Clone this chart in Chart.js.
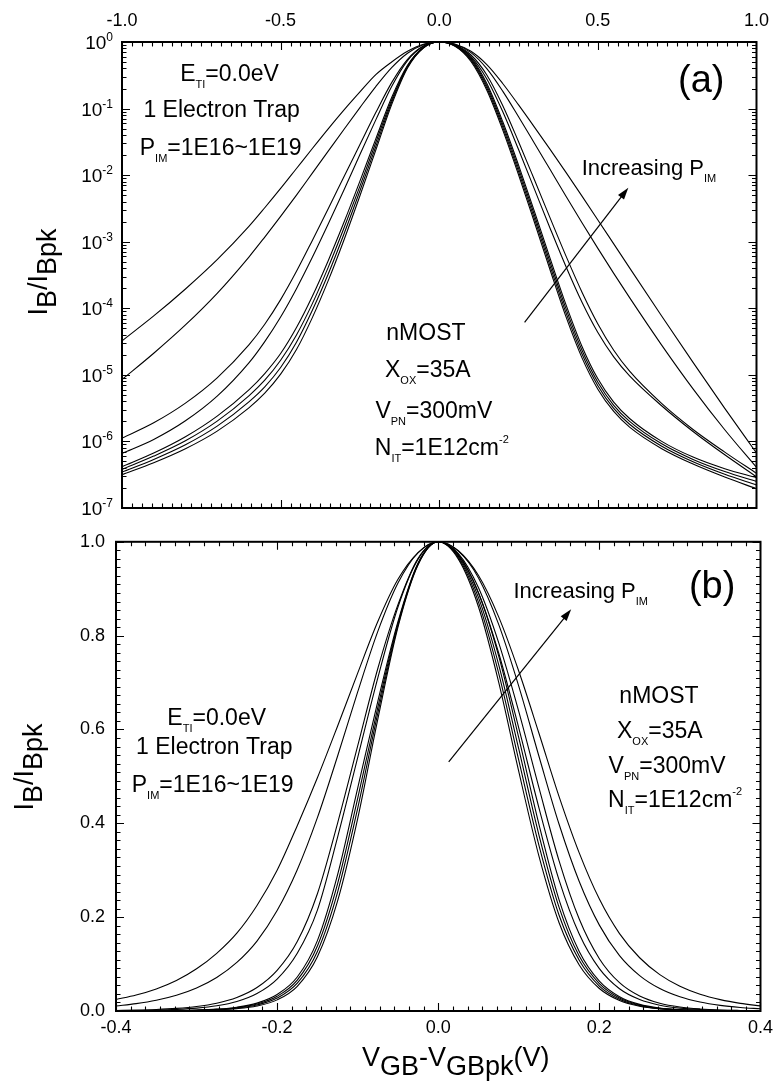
<!DOCTYPE html>
<html><head><meta charset="utf-8">
<script src="https://cdn.jsdelivr.net/npm/chart.js@4.4.0/dist/chart.umd.min.js"></script>
<style>
html,body{margin:0;padding:0;background:#fff;}
#wrap{position:relative;width:779px;height:1082px;background:#fff;}
#ca{position:absolute;left:0;top:0;}
#cb{position:absolute;left:0;top:520px;}
</style></head><body>
<div id="wrap"><canvas id="ca" width="779" height="520"></canvas><canvas id="cb" width="779" height="562"></canvas></div>
<script>
const FONT = '"Liberation Sans", Arial, Helvetica, sans-serif';

// ================= DATA =================
// Panel (a): x = VGB-VGBpk (V); values = log10(IB/IBpk)
const vTop = [-1.0,-0.9,-0.8,-0.7,-0.6,-0.55,-0.5,-0.45,-0.4,-0.35,-0.3,-0.25,-0.2,-0.15,-0.1,-0.05,0,
              0.05,0.1,0.15,0.2,0.25,0.3,0.35,0.4,0.45,0.5,0.55,0.6,0.7,0.8,0.9,1.0];
const aLog1 = [-4.49,-4.115,-3.71,-3.27,-2.77,-2.49,-2.2,-1.9,-1.6,-1.305,-1.02,-0.75,-0.49,-0.30,-0.14,-0.035,0,
               -0.033,-0.14,-0.34,-0.623,-0.945,-1.278,-1.617,-1.963,-2.315,-2.673,-3.033,-3.393,-4.108,-4.813,-5.503,-6.173];
const aLog2 = [-5.07,-4.675,-4.25,-3.775,-3.23,-2.93,-2.62,-2.30,-1.97,-1.64,-1.31,-0.985,-0.67,-0.385,-0.168,-0.04,0,
               -0.035,-0.16,-0.40,-0.738,-1.123,-1.52,-1.92,-2.32,-2.715,-3.10,-3.475,-3.84,-4.545,-5.21,-5.825,-6.39];
const aLog3 = [-5.95,-5.72,-5.425,-5.045,-4.55,-4.24,-3.87,-3.445,-2.98,-2.505,-2.02,-1.54,-1.06,-0.61,-0.26,-0.06,0,
               -0.045,-0.195,-0.495,-0.953,-1.498,-2.07,-2.65,-3.22,-3.758,-4.235,-4.63,-4.945,-5.425,-5.82,-6.16,-6.48];
const aLog4 = [-6.18,-5.97,-5.69,-5.32,-4.82,-4.50,-4.13,-3.705,-3.235,-2.735,-2.22,-1.69,-1.17,-0.67,-0.28,-0.065,0,
               -0.05,-0.22,-0.555,-1.045,-1.615,-2.21,-2.805,-3.38,-3.91,-4.365,-4.73,-5.015,-5.46,-5.85,-6.2,-6.53];
const aLog5 = [-6.38,-6.175,-5.93,-5.62,-5.225,-4.98,-4.68,-4.29,-3.82,-3.285,-2.705,-2.09,-1.455,-0.835,-0.35,-0.08,0,
               -0.05,-0.235,-0.625,-1.195,-1.85,-2.545,-3.258,-3.953,-4.573,-5.06,-5.41,-5.655,-5.995,-6.235,-6.41,-6.545];
const aLog6 = [-6.42,-6.22,-5.99,-5.695,-5.315,-5.08,-4.78,-4.40,-3.93,-3.385,-2.79,-2.165,-1.51,-0.87,-0.363,-0.083,0,
               -0.055,-0.254,-0.658,-1.237,-1.898,-2.599,-3.316,-4.013,-4.63,-5.112,-5.457,-5.698,-6.032,-6.27,-6.452,-6.60];
const aLog7 = [-6.46,-6.27,-6.05,-5.77,-5.405,-5.18,-4.89,-4.51,-4.03,-3.485,-2.88,-2.235,-1.57,-0.905,-0.377,-0.087,0,
               -0.06,-0.273,-0.692,-1.278,-1.947,-2.653,-3.374,-4.073,-4.688,-5.163,-5.503,-5.742,-6.068,-6.305,-6.493,-6.655];
const aLog8 = [-6.50,-6.32,-6.11,-5.845,-5.495,-5.275,-4.99,-4.62,-4.14,-3.585,-2.97,-2.31,-1.625,-0.94,-0.39,-0.09,0,
               -0.065,-0.293,-0.725,-1.32,-1.995,-2.708,-3.433,-4.133,-4.745,-5.215,-5.55,-5.785,-6.105,-6.34,-6.535,-6.71];

// Panel (b): linear IB/IBpk
const vBot = [-0.4,-0.375,-0.35,-0.325,-0.3,-0.275,-0.25,-0.225,-0.2,-0.175,-0.15,-0.125,-0.1,-0.075,-0.05,-0.025,0,
              0.025,0.05,0.075,0.1,0.125,0.15,0.175,0.2,0.225,0.25,0.275,0.3,0.325,0.35,0.375,0.4];
const b1 = [0.0245,0.034,0.047,0.065,0.09,0.123,0.166,0.225,0.30,0.395,0.497,0.607,0.72,0.83,0.92,0.977,1.0,
            0.981,0.928,0.84,0.724,0.592,0.457,0.337,0.2385,0.165,0.1135,0.0776,0.0528,0.0358,0.0242,0.0163,0.0109];
const b2 = [0.0107,0.0157,0.0229,0.0335,0.049,0.0714,0.1035,0.149,0.214,0.301,0.412,0.543,0.68,0.809,0.912,0.977,1.0,
            0.980,0.923,0.824,0.692,0.543,0.398,0.276,0.183,0.118,0.0754,0.0478,0.0302,0.019,0.012,0.0076,0.0048];
const b3 = [0.0011,0.0018,0.0031,0.0055,0.0095,0.0166,0.0288,0.05,0.0866,0.148,0.25,0.40,0.565,0.73,0.866,0.965,1.0,
            0.975,0.902,0.785,0.638,0.476,0.32,0.196,0.1115,0.0603,0.0318,0.0165,0.0085,0.0044,0.0022,0.0012,0.0006];
const b4 = [0.0006,0.001,0.0018,0.0034,0.0061,0.0111,0.0203,0.0372,0.068,0.123,0.215,0.37,0.54,0.71,0.861,0.963,1.0,
            0.972,0.891,0.763,0.603,0.433,0.279,0.164,0.0902,0.0473,0.0243,0.0123,0.0062,0.0031,0.0016,0.0008,0.0004];
const b5 = [0.00015,0.00028,0.00052,0.001,0.002,0.004,0.0081,0.0168,0.0351,0.0724,0.15,0.29,0.475,0.66,0.83,0.955,1.0,
            0.972,0.891,0.757,0.582,0.398,0.237,0.127,0.0638,0.0305,0.0141,0.0064,0.0029,0.0013,0.00055,0.00025,0.00011];
const b6 = [0.00012,0.00023,0.00043,0.00084,0.0017,0.0034,0.007,0.0148,0.0313,0.0658,0.1385,0.271,0.453,0.647,0.826,0.954,1.0,
            0.969,0.881,0.738,0.558,0.375,0.221,0.117,0.0585,0.0278,0.0128,0.0058,0.0026,0.0012,0.0005,0.00022,0.0001];
const b7 = [0.0001,0.00019,0.00035,0.00068,0.0014,0.0029,0.006,0.0127,0.0275,0.0593,0.127,0.253,0.432,0.635,0.822,0.952,1.0,
            0.966,0.871,0.72,0.534,0.353,0.204,0.108,0.0532,0.025,0.0114,0.0051,0.0023,0.001,0.00043,0.00019,0.00008];
const b8 = [0.00007,0.00014,0.00026,0.00052,0.00107,0.0023,0.0049,0.0107,0.0237,0.0527,0.1155,0.234,0.41,0.622,0.818,0.951,1.0,
            0.963,0.861,0.701,0.51,0.33,0.188,0.098,0.0479,0.0223,0.0101,0.0045,0.002,0.00085,0.00037,0.00016,0.00007];

// Tick labels
const topXTickVals = [-1.0,-0.5,0.0,0.5,1.0];
const topYDecades = [0,-1,-2,-3,-4,-5,-6,-7];
const botXTickVals = [-0.4,-0.2,0.0,0.2,0.4];
const botYTickVals = [0.0,0.2,0.4,0.6,0.8,1.0];

// ================= HELPERS =================
const f = sz => sz + 'px ' + FONT;
function richWidth(ctx, parts){ let w=0; for(const p of parts){ ctx.font=f(p[1]); w+=ctx.measureText(p[0]).width; } return w; }
function drawRich(ctx, x, y, parts, align){
  const w = richWidth(ctx, parts);
  let cx = align==='center' ? x - w/2 : (align==='right' ? x - w : x);
  ctx.textBaseline='alphabetic'; ctx.textAlign='left'; ctx.fillStyle='#000';
  for(const p of parts){ ctx.font=f(p[1]); ctx.fillText(p[0], cx, y + (p[2]||0)); cx += ctx.measureText(p[0]).width; }
}
function drawRichRot(ctx, x, y, parts){
  ctx.save(); ctx.translate(x, y); ctx.rotate(-Math.PI/2); drawRich(ctx, 0, 0, parts, 'center'); ctx.restore();
}
function arrow(ctx, x1,y1,x2,y2){
  const a = Math.atan2(y2-y1, x2-x1), L=12, W=3.8;
  ctx.save(); ctx.strokeStyle='#000'; ctx.fillStyle='#000'; ctx.lineWidth=1.2;
  ctx.beginPath(); ctx.moveTo(x1,y1); ctx.lineTo(x2-L*0.8*Math.cos(a), y2-L*0.8*Math.sin(a)); ctx.stroke();
  ctx.beginPath(); ctx.moveTo(x2,y2);
  ctx.lineTo(x2 - L*Math.cos(a) + W*Math.sin(a), y2 - L*Math.sin(a) - W*Math.cos(a));
  ctx.lineTo(x2 - L*Math.cos(a) - W*Math.sin(a), y2 - L*Math.sin(a) + W*Math.cos(a));
  ctx.closePath(); ctx.fill(); ctx.restore();
}
function linTicks(min, max, majorStep, nSub){
  const out=[]; const n=Math.round((max-min)/majorStep)*nSub;
  for(let i=0;i<=n;i++) out.push({v:min+i*majorStep/nSub, major:i%nSub===0});
  return out;
}
function logTicks(kMin, kMax){
  const out=[];
  for(let k=kMin;k<=kMax;k++){ out.push({v:Math.pow(10,k), major:true});
    if(k<kMax) for(let m=2;m<=9;m++) out.push({v:m*Math.pow(10,k), major:false}); }
  return out;
}
function drawFrameTicks(chart, xTicks, yTicks){
  const ctx=chart.ctx, ca=chart.chartArea, xs=chart.scales.x, ys=chart.scales.y;
  const MAJ=8, MIN=4.5;
  ctx.save(); ctx.strokeStyle='#000'; ctx.lineWidth=1.1;
  ctx.beginPath();
  xTicks.forEach(t=>{ const px=Math.round(xs.getPixelForValue(t.v))+0.5, L=t.major?MAJ:MIN;
    ctx.moveTo(px,ca.top); ctx.lineTo(px,ca.top+L); ctx.moveTo(px,ca.bottom); ctx.lineTo(px,ca.bottom-L); });
  yTicks.forEach(t=>{ const py=Math.round(ys.getPixelForValue(t.v))+0.5, L=t.major?MAJ:MIN;
    ctx.moveTo(ca.left,py); ctx.lineTo(ca.left+L,py); ctx.moveTo(ca.right,py); ctx.lineTo(ca.right-L,py); });
  ctx.stroke();
  ctx.lineWidth=2; ctx.strokeRect(ca.left, ca.top, ca.right-ca.left, ca.bottom-ca.top);
  ctx.restore();
}
const lineStyle = {borderColor:'#000', borderWidth:1.1, pointRadius:0, fill:false, showLine:true, cubicInterpolationMode:'monotone'};
const fmt1 = v => (Math.abs(v)<1e-9 ? '0.0' : Number(v).toFixed(1));

// ================= PANEL (a) =================
const topSeries = [aLog1,aLog2,aLog3,aLog4,aLog5,aLog6,aLog7,aLog8];
const topDatasets = topSeries.map(s => Object.assign({data: vTop.map((v,i)=>({x:v, y:Math.pow(10,s[i])}))}, lineStyle));

const topTexts = [
  {x:-0.661, e:-0.586, align:'center', parts:[['E',23,0],['TI',11,7],['=0.0eV',23,0]]},
  {x:-0.686, e:-1.127, align:'center', parts:[['1 Electron Trap',23,0]]},
  {x:-0.689, e:-1.697, align:'center', parts:[['P',23,0],['IM',11,7],['=1E16~1E19',23,0]]},
  {x:0.826, e:-0.75, align:'center', parts:[['(a)',38,0]]},
  {x:0.449, e:-1.998, align:'left', parts:[['Increasing P',22,0],['IM',11,7]]},
  {x:-0.042, e:-4.476, align:'center', parts:[['nMOST',23,0]]},
  {x:-0.036, e:-5.032, align:'center', parts:[['X',23,0],['OX',11,7],['=35A',23,0]]},
  {x:-0.017, e:-5.648, align:'center', parts:[['V',23,0],['PN',11,7],['=300mV',23,0]]},
  {x:0.008, e:-6.204, align:'center', parts:[['N',23,0],['IT',11,7],['=1E12cm',23,0],['-2',11,-12]]}
];
const topArrow = {x1:0.269, e1:-4.21, x2:0.596, e2:-2.19};

const decorTop = {
  id:'decorTop',
  afterDraw(chart){
    const ctx=chart.ctx, xs=chart.scales.x, ys=chart.scales.y, ca=chart.chartArea;
    drawFrameTicks(chart, linTicks(-1,1,0.5,16), logTicks(-7,0));
    topYDecades.forEach(k=>{
      const py = ys.getPixelForValue(Math.pow(10,k));
      drawRich(ctx, ca.left-9, py+7, [['10',19,0],[String(k),12,-8]], 'right');
    });
    topTexts.forEach(t=> drawRich(ctx, xs.getPixelForValue(t.x), ys.getPixelForValue(Math.pow(10,t.e)), t.parts, t.align));
    arrow(ctx, xs.getPixelForValue(topArrow.x1), ys.getPixelForValue(Math.pow(10,topArrow.e1)),
               xs.getPixelForValue(topArrow.x2), ys.getPixelForValue(Math.pow(10,topArrow.e2)));
    drawRichRot(ctx, 47, 272, [['I',27,0],['B',27,9],['/I',27,0],['Bpk',27,9]]);
  }
};

new Chart(document.getElementById('ca'), {
  type:'scatter',
  data:{datasets:topDatasets},
  options:{
    responsive:false, animation:false, events:[],
    layout:{padding:{left:0,right:14,top:0,bottom:12}},
    plugins:{legend:{display:false}, tooltip:{enabled:false}},
    scales:{
      x:{type:'linear', position:'top', min:-1, max:1,
         grid:{display:false, drawTicks:false}, border:{display:false},
         ticks:{stepSize:0.5, color:'#000', font:{family:FONT, size:18}, padding:10, maxRotation:0, autoSkip:false, callback:fmt1},
         afterFit:s=>{s.height=42;}},
      y:{type:'logarithmic', min:1e-7, max:1,
         grid:{display:false, drawTicks:false}, border:{display:false},
         ticks:{display:false}, afterFit:s=>{s.width=122;}}
    }
  },
  plugins:[decorTop]
});

// ================= PANEL (b) =================
const botSeries = [b1,b2,b3,b4,b5,b6,b7,b8];
const botDatasets = botSeries.map(s => Object.assign({data: vBot.map((v,i)=>({x:v, y:s[i]}))}, lineStyle));

const botTexts = [
  {x:-0.275, y:0.609, align:'center', parts:[['E',23,0],['TI',11,7],['=0.0eV',23,0]]},
  {x:-0.278, y:0.548, align:'center', parts:[['1 Electron Trap',23,0]]},
  {x:-0.280, y:0.467, align:'center', parts:[['P',23,0],['IM',11,7],['=1E16~1E19',23,0]]},
  {x:0.340, y:0.880, align:'center', parts:[['(b)',38,0]]},
  {x:0.0934, y:0.881, align:'left', parts:[['Increasing P',22,0],['IM',11,7]]},
  {x:0.274, y:0.657, align:'center', parts:[['nMOST',23,0]]},
  {x:0.275, y:0.582, align:'center', parts:[['X',23,0],['OX',11,7],['=35A',23,0]]},
  {x:0.284, y:0.508, align:'center', parts:[['V',23,0],['PN',11,7],['=300mV',23,0]]},
  {x:0.294, y:0.435, align:'center', parts:[['N',23,0],['IT',11,7],['=1E12cm',23,0],['-2',11,-12]]}
];
const botArrow = {x1:0.013, y1:0.531, x2:0.165, y2:0.856};

const decorBot = {
  id:'decorBot',
  afterDraw(chart){
    const ctx=chart.ctx, xs=chart.scales.x, ys=chart.scales.y, ca=chart.chartArea;
    drawFrameTicks(chart, linTicks(-0.4,0.4,0.2,11), linTicks(0,1,0.2,11));
    botTexts.forEach(t=> drawRich(ctx, xs.getPixelForValue(t.x), ys.getPixelForValue(t.y), t.parts, t.align));
    arrow(ctx, xs.getPixelForValue(botArrow.x1), ys.getPixelForValue(botArrow.y1),
               xs.getPixelForValue(botArrow.x2), ys.getPixelForValue(botArrow.y2));
    drawRichRot(ctx, 33, 767-520, [['I',27,0],['B',27,9],['/I',27,0],['Bpk',27,9]]);
    drawRich(ctx, 362, 546, [['V',27,0],['GB',27,9],['-V',27,0],['GBpk',27,9],['(V)',27,0]], 'left');
  }
};

new Chart(document.getElementById('cb'), {
  type:'scatter',
  data:{datasets:botDatasets},
  options:{
    responsive:false, animation:false, events:[],
    layout:{padding:{left:0,right:16,top:13,bottom:0}},
    plugins:{legend:{display:false}, tooltip:{enabled:false}},
    scales:{
      x:{type:'linear', position:'bottom', min:-0.4, max:0.4,
         grid:{display:false, drawTicks:false}, border:{display:false},
         ticks:{stepSize:0.2, color:'#000', font:{family:FONT, size:18}, padding:6, maxRotation:0, autoSkip:false, callback:fmt1},
         afterFit:s=>{s.height=71;}},
      y:{type:'linear', min:0, max:1,
         grid:{display:false, drawTicks:false}, border:{display:false},
         ticks:{stepSize:0.2, color:'#000', font:{family:FONT, size:18}, padding:11, autoSkip:false, callback:fmt1},
         afterFit:s=>{s.width=116;}}
    }
  },
  plugins:[decorBot]
});
</script>
</body></html>
